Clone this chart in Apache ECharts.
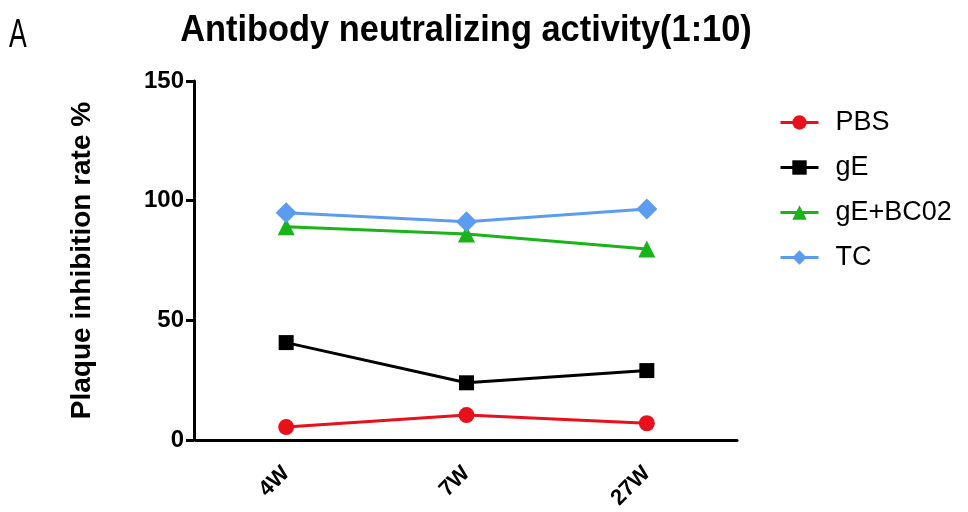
<!DOCTYPE html>
<html>
<head>
<meta charset="utf-8">
<script src="https://cdn.jsdelivr.net/npm/echarts@6/dist/echarts.min.js"></script>
<style>html,body{margin:0;padding:0;background:#fff;}#c{width:968px;height:512px;}</style>
</head>
<body>
<div id="c"></div>
<script>
var categories = ['4W', '7W', '27W'];
var pbs = [5.4, 10.4, 7.0];
var gE = [40.7, 23.9, 29.0];
var gEBC02 = [89.1, 86.1, 79.8];
var tc = [95.0, 91.2, 96.5];
var yTicks = [0, 50, 100, 150];
var titleText = 'Antibody neutralizing activity(1:10)';
var panelLabel = 'A';

var chart = echarts.init(document.getElementById('c'));
var FONT = '"Liberation Sans", Arial, sans-serif';
function mk(name, data, color, symbol, size) {
  return {
    name: name, type: 'line', data: data, symbol: symbol, symbolSize: size,
    lineStyle: {color: color, width: 3}, itemStyle: {color: color}, z: 3
  };
}
chart.setOption({
  animation: false,
  textStyle: {fontFamily: FONT},
  graphic: [
    {type: 'text', x: 466, y: 12, scaleX: 0.93,
     style: {text: titleText, font: 'bold 37px "Liberation Sans", Arial, sans-serif', fill: '#000',
             textAlign: 'center', textVerticalAlign: 'top'}},
    {type: 'text', x: 9, y: 15, scaleX: 0.65,
     style: {text: panelLabel, font: '41px "Liberation Sans", Arial, sans-serif', fill: '#000',
             textAlign: 'left', textVerticalAlign: 'top'}}
  ],
  legend: {
    orient: 'vertical', left: 774, top: 104, itemWidth: 38, itemHeight: 18, itemGap: 18,
    lineStyle: {width: 3},
    textStyle: {fontFamily: FONT, fontSize: 27, color: '#000', padding: [0,0,0,12]},
    data: ['PBS', 'gE', 'gE+BC02', 'TC']
  },
  grid: {left: 196, top: 81, width: 541, bottom: 72, containLabel: false},
  xAxis: {
    type: 'category', data: categories, boundaryGap: true,
    axisLine: {lineStyle: {color: '#000', width: 3}},
    axisTick: {alignWithLabel: true, length: 8, lineStyle: {color: '#000', width: 3}},
    axisLabel: {rotate: 45, fontSize: 22, fontWeight: 'bold', color: '#000', margin: 30, fontFamily: FONT}
  },
  yAxis: {
    type: 'value', min: yTicks[0], max: yTicks[yTicks.length-1], interval: 50, offset: 2,
    name: 'Plaque inhibition rate %', nameLocation: 'middle', nameGap: 98,
    nameTextStyle: {fontSize: 28, fontWeight: 'bold', color: '#000', fontFamily: FONT},
    splitLine: {show: false},
    axisLine: {show: true, lineStyle: {color: '#000', width: 3}},
    axisTick: {show: true, length: 8, lineStyle: {color: '#000', width: 3}},
    axisLabel: {fontSize: 24, fontWeight: 'bold', color: '#000', margin: 10, fontFamily: FONT}
  },
  series: [
    mk('PBS', pbs, '#e8101a', 'circle', 16),
    mk('gE', gE, '#000000', 'rect', 15),
    mk('gE+BC02', gEBC02, '#18b418', 'triangle', 17),
    mk('TC', tc, '#5b9cf0', 'diamond', 21)
  ]
});
</script>
</body>
</html>
